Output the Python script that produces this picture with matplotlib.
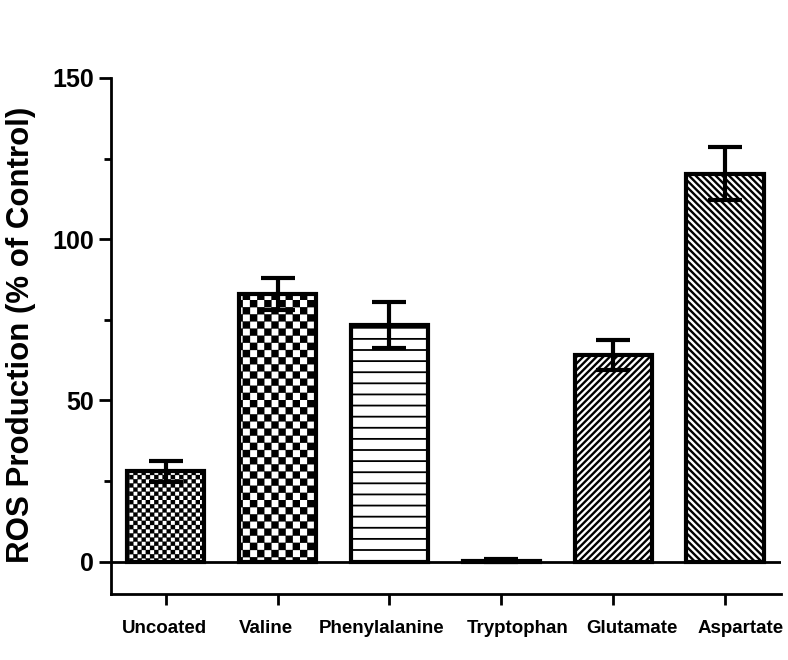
import warnings
import numpy as np
import matplotlib
matplotlib.use('Agg')
import matplotlib.pyplot as plt
import matplotlib.transforms as mtransforms
from matplotlib import hatch as mhatch
from matplotlib.path import Path

warnings.filterwarnings('ignore')

# ROS production for each amino acid coating (% of control), mean and error
categories = ['Uncoated', 'Valine', 'Phenylalanine', 'Tryptophan', 'Glutamate', 'Aspartate']
ros_mean = [28, 83, 73.5, 0.3, 64, 120.3]
ros_err = [3.3, 5, 7.1, 0.4, 4.7, 8.2]
y_ticks = [0, 50, 100, 150]
y_minor = [25, 75, 125]


# Prism-like fill patterns that matplotlib does not ship with
class CheckerHatch(mhatch.HatchPatternBase):
    char = 'c'
    cells = 14

    def __init__(self, hatch, density):
        self.n = self.cells if self.char in hatch else 0
        self.num_vertices = (self.n * self.n // 2) * 5

    def set_vertices_and_codes(self, vertices, codes):
        s = 1.0 / self.n
        k = 0
        for i in range(self.n):
            for j in range(self.n):
                if (i + j) % 2:
                    continue
                x0, y0 = i * s, j * s
                vertices[k:k + 5] = [(x0, y0), (x0 + s, y0), (x0 + s, y0 + s),
                                     (x0, y0 + s), (x0, y0)]
                codes[k] = Path.MOVETO
                codes[k + 1:k + 4] = Path.LINETO
                codes[k + 4] = Path.CLOSEPOLY
                k += 5


class FineCheckerHatch(CheckerHatch):
    char = 'k'
    cells = 24


class RowsHatch(mhatch.HatchPatternBase):
    char = 'h'
    lines = 9

    def __init__(self, hatch, density):
        self.n = self.lines if self.char in hatch else 0
        self.num_vertices = self.n * 2

    def set_vertices_and_codes(self, vertices, codes):
        ys = (np.arange(self.n) + 0.5) / self.n
        vertices[0::2, 0] = 0.0
        vertices[0::2, 1] = ys
        vertices[1::2, 0] = 1.0
        vertices[1::2, 1] = ys
        codes[0::2] = Path.MOVETO
        codes[1::2] = Path.LINETO


class RisingHatch(mhatch.HatchPatternBase):
    char = 'g'
    lines = 15
    sign = 1

    def __init__(self, hatch, density):
        self.n = self.lines if self.char in hatch else 0
        self.num_vertices = (2 * self.n + 1) * 2 if self.n else 0

    def set_vertices_and_codes(self, vertices, codes):
        c = np.arange(-self.n, self.n + 1) / self.n
        if self.sign > 0:
            vertices[0::2, 0] = 0.0
            vertices[0::2, 1] = c
            vertices[1::2, 0] = 1.0
            vertices[1::2, 1] = 1.0 + c
        else:
            vertices[0::2, 0] = 0.0
            vertices[0::2, 1] = 1.0 + c
            vertices[1::2, 0] = 1.0
            vertices[1::2, 1] = c
        codes[0::2] = Path.MOVETO
        codes[1::2] = Path.LINETO


class FallingHatch(RisingHatch):
    char = 'a'
    sign = -1


mhatch._hatch_types.extend([CheckerHatch, FineCheckerHatch, RowsHatch,
                            RisingHatch, FallingHatch])

hatches = ['k', 'c', 'h', 'h', 'g', 'a']
hatch_widths = [0.2, 0.2, 1.3, 1.3, 1.7, 1.7]
# the original labels sit a little off their ticks (pixels)
label_shift = [-1, -12, -8, 16, 19, 16]

plt.rcParams['font.family'] = ['Liberation Sans', 'DejaVu Sans']
plt.rcParams['font.weight'] = 'bold'

fig = plt.figure(figsize=(7.88, 6.6), dpi=100)
ax = fig.add_axes([0.1409, 0.1, 0.991 - 0.1409, 0.882 - 0.1])

x = np.arange(len(categories))
for i in range(len(categories)):
    with plt.rc_context({'hatch.linewidth': hatch_widths[i]}):
        bar = ax.bar(x[i], ros_mean[i], width=0.69, color='white',
                     edgecolor='black', linewidth=3, hatch=hatches[i], zorder=2)[0]
    if hasattr(bar, 'set_hatch_linewidth'):
        bar.set_hatch_linewidth(hatch_widths[i])

ax.errorbar(x, ros_mean, yerr=ros_err, fmt='none', ecolor='black',
            elinewidth=3, capsize=12.5, capthick=3, zorder=3)

ax.axhline(0, color='black', linewidth=2, zorder=4)

ax.set_xlim(-0.49, 5.5)
ax.set_ylim(-10, 150)
ax.set_yticks(y_ticks)
ax.set_yticks(y_minor, minor=True)
ax.set_xticks(x)
ax.set_xticklabels([])
ax.set_yticklabels([str(t) for t in y_ticks], fontsize=18, fontweight='bold')

# category names drawn as text so they can sit off their ticks like the original
base = mtransforms.blended_transform_factory(ax.transData, ax.transAxes)
for i, name in enumerate(categories):
    shift = mtransforms.ScaledTranslation(label_shift[i] / 100, -0.26, fig.dpi_scale_trans)
    ax.text(x[i], 0, name, transform=base + shift, ha='center', va='top',
            fontsize=13.5, fontweight='bold', clip_on=False)

for side in ['top', 'right']:
    ax.spines[side].set_visible(False)
for side in ['left', 'bottom']:
    ax.spines[side].set_linewidth(2)

ax.tick_params(axis='y', which='major', length=9, width=2, pad=3)
ax.tick_params(axis='y', which='minor', length=5, width=2)
ax.tick_params(axis='x', length=8, width=2)

ax.set_ylabel('ROS Production (% of Control)', fontsize=22.5, fontweight='bold')
ax.yaxis.set_label_coords(-0.112, 0.502)

fig.savefig('out.png', dpi=100)
